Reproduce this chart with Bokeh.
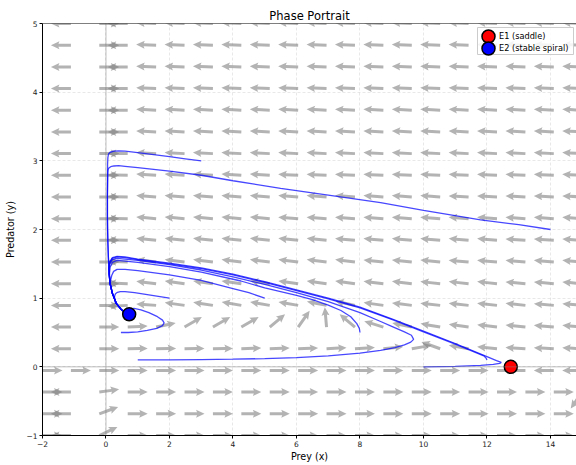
import math
from bokeh.plotting import figure
from bokeh.models import Range1d, Span, FixedTicker, Legend, LegendItem
from bokeh.embed import file_html
from bokeh.resources import INLINE

# ---------------- data ----------------
# quiver grid (prey x, predator y)
grid_x = [-2.0, -1.105, -0.211, 0.684, 1.579, 2.474, 3.368, 4.263, 5.158, 6.053,
          6.947, 7.842, 8.737, 9.632, 10.526, 11.421, 12.316, 13.211, 14.105, 15.0]
grid_y = [-1.0, -0.684, -0.368, -0.053, 0.263, 0.579, 0.895, 1.211, 1.526, 1.842,
          2.158, 2.474, 2.789, 3.105, 3.421, 3.737, 4.053, 4.368, 4.684, 5.0]
# arrow direction (degrees), one row per grid_y value (bottom -> top)
arrow_angle = [
    [0, 180, 25, 0, 0, 0, 0, 0, 0, 0, 0, 0, 0, 0, 0, 0, 0, 0, 0, 0],
    [0, 180, 20, 0, 0, 0, 0, 0, 0, 0, 0, 0, 0, 0, 0, 0, 0, 0, 0, 0],
    [0, 180, 8, 0, 0, 0, 0, 0, 0, 0, 0, 0, 0, 0, 0, 0, 0, 0, 0, 235],
    [0, 0, 0, 0, 0, 0, 0, 0, 0, 0, 0, 0, 0, 0, 0, 0, 0, 180, 180, 180],
    [180, 180, 0, 1, 1, 1, 1, 2, 2, 2, 3, 4, 6, 10, 160, 170, 174, 176, 177, 177],
    [180, 180, 0, 3, 12, 30, 30, 30, 40, 55, 95, 140, 163, 168, 170, 172, 173, 174, 175, 175],
    [180, 180, 0, 183, 176, 172, 171, 170, 170, 170, 169, 168, 172, 173, 174, 174, 174, 174, 175, 175],
    [180, 180, 0, 178, 173, 172, 172, 172, 172, 172, 172, 172, 173, 173, 174, 174, 174, 175, 175, 175],
    [180, 180, 0, 178, 173, 173, 173, 173, 173, 173, 173, 173, 174, 174, 174, 175, 175, 175, 175, 175],
    [180, 180, 0, 178, 174, 174, 174, 174, 174, 174, 174, 175, 175, 175, 175, 175, 175, 176, 176, 176],
    [180, 180, 0, 179, 175, 175, 175, 175, 175, 176, 176, 176, 176, 176, 176, 176, 176, 176, 176, 176],
    [180, 180, 0, 179, 176, 176, 176, 176, 176, 176, 176, 176, 176, 176, 176, 177, 177, 177, 177, 177],
    [180, 180, 0, 179, 176, 176, 176, 176, 176, 177, 177, 177, 177, 177, 177, 177, 177, 177, 177, 177],
    [180, 180, 0, 179, 177, 177, 177, 177, 177, 177, 177, 177, 177, 177, 177, 177, 177, 177, 177, 177],
    [180, 180, 0, 180, 177, 177, 177, 177, 177, 177, 177, 177, 177, 177, 177, 177, 177, 177, 177, 177],
    [180, 180, 0, 180, 177, 177, 177, 177, 177, 177, 177, 177, 177, 177, 177, 177, 177, 177, 177, 177],
    [180, 180, 0, 180, 178, 178, 178, 178, 178, 178, 178, 178, 178, 178, 178, 178, 178, 178, 178, 178],
    [180, 180, 0, 180, 178, 178, 178, 178, 178, 178, 178, 178, 178, 178, 178, 178, 178, 178, 178, 178],
    [180, 180, 0, 180, 178, 178, 178, 178, 178, 178, 178, 178, 178, 178, 178, 178, 178, 178, 178, 178],
    [180, 180, 0, 180, 178, 178, 178, 178, 178, 178, 178, 178, 178, 178, 178, 178, 178, 178, 178, 178],
]

# shared final approach to the stable spiral
descent_hi_x = [0.05, 0.045, 0.045, 0.05, 0.06, 0.075]
descent_hi_y = [2.8, 2.5, 2.2, 2.0, 1.8, 1.6]
descent_lo_x = [0.09, 0.1, 0.13, 0.2, 0.33, 0.49, 0.6, 0.73]
descent_lo_y = [1.45, 1.35, 1.21, 1.07, 0.92, 0.83, 0.79, 0.765]

traj_3_3_x = [3.0, 2.5, 2.0, 1.5, 1.0, 0.6, 0.4, 0.25, 0.13, 0.08, 0.06, 0.05]
traj_3_3_y = [3.0, 3.03, 3.06, 3.09, 3.12, 3.14, 3.146, 3.14, 3.125, 3.1, 3.05, 2.95]
traj_14_2_x = [14.0, 13.0, 11.8, 10.0, 8.65, 7.0, 5.5, 4.0, 3.0, 2.0, 1.0, 0.6, 0.4, 0.25, 0.15, 0.09, 0.065, 0.055]
traj_14_2_y = [2.0, 2.07, 2.14, 2.28, 2.39, 2.5, 2.6, 2.71, 2.79, 2.85, 2.9, 2.92, 2.93, 2.925, 2.915, 2.895, 2.87, 2.82]
traj_2_1_x = [2.0, 1.6, 1.2, 0.9, 0.6, 0.45, 0.36, 0.3, 0.27, 0.27, 0.3]
traj_2_1_y = [1.0, 1.03, 1.06, 1.08, 1.095, 1.095, 1.085, 1.065, 1.03, 0.98, 0.93]
traj_5_1_x = [5.0, 4.5, 4.0, 3.0, 2.0, 1.0, 0.6, 0.35, 0.24, 0.18, 0.15, 0.14]
traj_5_1_y = [1.0, 1.08, 1.14, 1.26, 1.34, 1.4, 1.42, 1.42, 1.39, 1.33, 1.27, 1.21]
traj_8_05_x = [8.0, 7.98, 7.9, 7.71, 7.4, 7.0, 6.5, 6.0, 5.0, 4.25, 3.0, 2.0, 1.0, 0.6, 0.35, 0.2, 0.13, 0.11]
traj_8_05_y = [0.5, 0.56, 0.63, 0.73, 0.82, 0.9, 0.98, 1.04, 1.15, 1.25, 1.38, 1.46, 1.52, 1.54, 1.55, 1.52, 1.45, 1.36]
traj_1_01_x = [1.0, 2.0, 3.0, 4.0, 5.0, 6.0, 7.0, 8.0, 8.65, 9.1, 9.4, 9.6, 9.69, 9.62, 9.4, 9.0, 8.65, 8.0,
               7.0, 6.0, 5.0, 4.0, 3.0, 2.0, 1.0, 0.6, 0.35, 0.2, 0.12, 0.1]
traj_1_01_y = [0.1, 0.102, 0.106, 0.112, 0.12, 0.135, 0.16, 0.2, 0.24, 0.28, 0.32, 0.36, 0.4, 0.46, 0.51, 0.59, 0.66, 0.79,
               0.95, 1.08, 1.2, 1.31, 1.41, 1.49, 1.55, 1.57, 1.58, 1.56, 1.5, 1.42]
traj_10_0_x = [10.0, 11.0, 11.8, 12.2, 12.4, 12.45, 12.3, 12.0, 11.0, 10.0, 9.0, 8.0, 7.0, 6.0, 5.0, 4.0, 3.0,
               2.0, 1.0, 0.6, 0.35, 0.2, 0.12, 0.09]
traj_10_0_y = [0.0, 0.008, 0.02, 0.035, 0.05, 0.065, 0.09, 0.15, 0.34, 0.52, 0.7, 0.87, 1.0, 1.12, 1.24, 1.35, 1.44,
               1.51, 1.57, 1.6, 1.61, 1.59, 1.53, 1.45]
traj_12_01_x = [12.0, 11.97, 11.9, 11.0, 10.0, 9.0, 8.0, 7.0, 6.0, 5.0, 4.0, 3.0, 2.0, 1.0, 0.6, 0.35, 0.2, 0.12, 0.095]
traj_12_01_y = [0.1, 0.13, 0.16, 0.33, 0.51, 0.69, 0.86, 0.99, 1.11, 1.23, 1.34, 1.43, 1.5, 1.56, 1.59, 1.6, 1.58, 1.52, 1.44]
traj_spiral_x = [0.47, 0.7, 1.0, 1.3, 1.6, 1.78, 1.83, 1.78, 1.62, 1.35, 1.1, 0.88, 0.75, 0.68, 0.7, 0.73]
traj_spiral_y = [0.5, 0.5, 0.51, 0.53, 0.56, 0.6, 0.64, 0.68, 0.73, 0.79, 0.83, 0.85, 0.84, 0.8, 0.77, 0.765]

eq_labels = ["E1 (saddle)", "E2 (stable spiral)"]
eq_x = [12.75, 0.73]
eq_y = [0.0, 0.765]
eq_colors = ["red", "blue"]

x_ticks = [-2, 0, 2, 4, 6, 8, 10, 12, 14]
y_ticks = [-1, 0, 1, 2, 3, 4, 5]

# ---------------- figure ----------------
W, H = 576, 465
BL, BR, BT, BB = 42, 0, 23, 30
X0, X1 = -2.0, 14.82
Y0, Y1 = -1.0, 5.0
FONT = "DejaVu Sans"

p = figure(width=W, height=H, x_range=Range1d(X0, X1), y_range=Range1d(Y0, Y1),
           output_backend="svg", toolbar_location=None, title="Phase Portrait",
           min_border_left=BL, min_border_right=BR, min_border_top=BT, min_border_bottom=BB)
p.outline_line_color = None
p.background_fill_color = "white"
p.border_fill_color = "white"

p.title.align = "center"
p.title.text_font = FONT
p.title.text_font_style = "normal"
p.title.text_font_size = "11.5px"
p.title.text_color = "black"
p.title.standoff = 2

for ax, ticks in ((p.xaxis[0], x_ticks), (p.yaxis[0], y_ticks)):
    ax.ticker = FixedTicker(ticks=ticks)
    ax.major_label_overrides = {t: (("\u2212" + str(-t)) if t < 0 else str(t)) for t in ticks}
    ax.axis_line_color = "black"
    ax.axis_line_width = 1
    ax.major_tick_line_color = "black"
    ax.major_tick_out = 3
    ax.major_tick_in = 0
    ax.minor_tick_line_color = None
    ax.major_label_text_font = FONT
    ax.major_label_text_font_size = "7.5px"
    ax.major_label_text_color = "#222222"
    ax.major_label_standoff = 2
    ax.axis_label_text_font = FONT
    ax.axis_label_text_font_style = "normal"
    ax.axis_label_text_font_size = "9.6px"
    ax.axis_label_text_color = "black"
p.xaxis.axis_label = "Prey (x)"
p.yaxis.axis_label = "Predator (y)"
p.xaxis.axis_label_standoff = 1
p.yaxis.axis_label_standoff = 7

for g in (p.xgrid[0], p.ygrid[0]):
    g.grid_line_color = "#bdbdbd"
    g.grid_line_alpha = 0.5
    g.grid_line_dash = "3 2"
    g.grid_line_width = 0.7

p.add_layout(Span(location=0, dimension="width", line_color="gray", line_alpha=0.5, line_width=1))
p.add_layout(Span(location=0, dimension="height", line_color="gray", line_alpha=0.5, line_width=1))
p.add_layout(Span(location=Y1, dimension="width", line_color="black", line_width=1.2))

# ---------------- quiver (arrows of fixed screen length) ----------------
sx = (W - BL - BR) / (X1 - X0)
sy = (H - BT - BB) / (Y1 - Y0)
L, SW, HL, HA, HW = 20.0, 3.0, 8.5, 7.5, 8.0
shape = [(0, -SW / 2), (L - HA, -SW / 2), (L - HL, -HW / 2), (L, 0),
         (L - HL, HW / 2), (L - HA, SW / 2), (0, SW / 2)]
qx, qy = [], []
for j, yv in enumerate(grid_y):
    for i, xv in enumerate(grid_x):
        a = math.radians(arrow_angle[j][i])
        c, s = math.cos(a), math.sin(a)
        qx.append([xv + (px * c - py * s) / sx for px, py in shape])
        qy.append([yv + (px * s + py * c) / sy for px, py in shape])
p.patches(qx, qy, fill_color="gray", fill_alpha=0.6, line_color=None)

# ---------------- trajectories ----------------
trajs = [
    (traj_3_3_x + descent_hi_x + descent_lo_x, traj_3_3_y + descent_hi_y + descent_lo_y),
    (traj_14_2_x + descent_hi_x[1:] + descent_lo_x, traj_14_2_y + descent_hi_y[1:] + descent_lo_y),
    (traj_2_1_x + descent_lo_x[4:], traj_2_1_y + descent_lo_y[4:]),
    (traj_5_1_x + descent_lo_x[3:], traj_5_1_y + descent_lo_y[3:]),
    (traj_8_05_x + descent_lo_x[2:], traj_8_05_y + descent_lo_y[2:]),
    (traj_1_01_x + descent_lo_x[1:], traj_1_01_y + descent_lo_y[1:]),
    (traj_10_0_x + descent_lo_x[1:], traj_10_0_y + descent_lo_y[1:]),
    (traj_12_01_x + descent_lo_x[1:], traj_12_01_y + descent_lo_y[1:]),
    (traj_spiral_x, traj_spiral_y),
]
p.multi_line([t[0] for t in trajs], [t[1] for t in trajs],
             line_color="blue", line_alpha=0.72, line_width=1.3)

# ---------------- equilibria ----------------
for ex, ey, col in zip(eq_x, eq_y, eq_colors):
    p.scatter([ex], [ey], size=13, fill_color=col, line_color="black", line_width=1.5)

# ---------------- legend (compact, matplotlib-like) ----------------
LEG_X, LEG_Y = 435, 381          # legend bottom-left corner, px from frame bottom-left
PAD_L, PAD_R, PAD_T, PAD_B = 4, 1, 3, 0
ROW_H, GLYPH_W = 12, 14
leg_h = PAD_T + PAD_B + ROW_H * len(eq_labels)

# legend frame and full-size legend markers
box_l = X0 + LEG_X / sx
box_r = X1 - 3 / sx
box_b = Y0 + LEG_Y / sy
box_t = Y0 + (LEG_Y + leg_h) / sy
p.quad(left=[box_l], right=[box_r], bottom=[box_b], top=[box_t], fill_color="white",
       fill_alpha=0.85, line_color="#cccccc", line_width=1, level="overlay")
mk_x = [X0 + (LEG_X + PAD_L + GLYPH_W / 2) / sx] * len(eq_labels)
mk_y = [Y0 + (LEG_Y + leg_h - PAD_T - ROW_H * (k + 0.5)) / sy for k in range(len(eq_labels))]
p.scatter(mk_x, mk_y, size=13, fill_color=eq_colors, line_color="black", line_width=1.5,
          level="overlay")

items = []
for lab in eq_labels:
    dummy = p.scatter([], [], size=1, fill_alpha=0, line_alpha=0)
    items.append(LegendItem(label=lab, renderers=[dummy]))
lg = Legend(items=items, location=(LEG_X, LEG_Y))
lg.padding = dict(left=PAD_L, right=PAD_R, top=PAD_T, bottom=PAD_B)
lg.spacing = 0
lg.glyph_width = GLYPH_W
lg.glyph_height = ROW_H
lg.label_height = ROW_H
lg.label_standoff = 8
lg.label_text_font = FONT
lg.label_text_font_size = "8.2px"
lg.label_text_color = "black"
lg.border_line_color = None
lg.background_fill_alpha = 0
p.add_layout(lg)

open("out.html", "w").write(file_html(p, INLINE))
